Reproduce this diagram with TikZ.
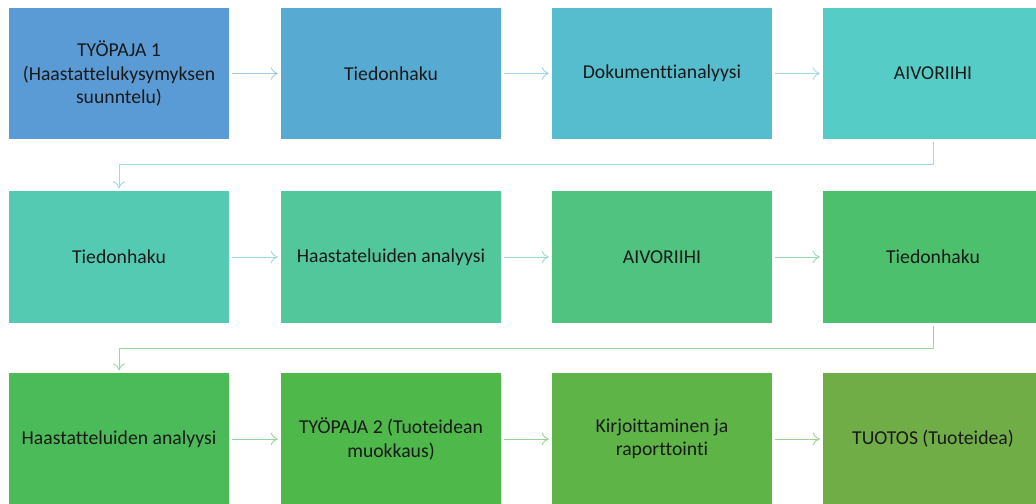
\documentclass[tikz,border=0pt]{standalone}
\usepackage{fontspec}
\setmainfont[Ligatures=NoCommon]{Carlito}
\usetikzlibrary{calc,positioning,arrows.meta}

\definecolor{cA}{HTML}{5B9BD5}
\definecolor{cB}{HTML}{57ABD2}
\definecolor{cC}{HTML}{55BDCD}
\definecolor{cD}{HTML}{55CCC6}
\definecolor{cE}{HTML}{54CAB2}
\definecolor{cF}{HTML}{52C79B}
\definecolor{cG}{HTML}{4FC37F}
\definecolor{cH}{HTML}{4CC06C}
\definecolor{cI}{HTML}{4BBB5A}
\definecolor{cJ}{HTML}{4EB84B}
\definecolor{cK}{HTML}{5EB447}
\definecolor{cL}{HTML}{70AD47}

\begin{document}
\begin{tikzpicture}[x=0.025cm,y=-0.025cm]
\tikzset{stepbox/.style={rectangle,minimum width=5.5cm,minimum height=3.275cm,
    inner sep=0pt,align=center,text=black!90,font=\fontsize{14}{16.5}\selectfont}};
\tikzset{link/.style={draw=#1,line width=0.6pt,-{To[length=5pt,width=9pt]},shorten >=2pt,shorten <=2pt}};

\pgfmathsetmacro{\colA}{119};
\pgfmathsetmacro{\colB}{391};
\pgfmathsetmacro{\colC}{662};
\pgfmathsetmacro{\colD}{933};
\pgfmathsetmacro{\rowA}{73.5};
\pgfmathsetmacro{\rowB}{257};
\pgfmathsetmacro{\rowC}{439};

\useasboundingbox (0,0) rectangle (1036,504);
\clip (0,0) rectangle (1036,504);
\fill[white] (0,0) rectangle (1036,504);

% first row
\node[stepbox,fill=cA] (b1) at (\colA,\rowA) {TYÖPAJA 1\\(Haastattelukysymyksen\\suunntelu)};
\node[stepbox,fill=cB] (b2) at (\colB,\rowA) {Tiedonhaku};
\node[stepbox,fill=cC] (b3) at (\colC,\rowA) {Dokumenttianalyysi};
\node[stepbox,fill=cD] (b4) at (\colD,\rowA) {AIVORIIHI};

% second row
\node[stepbox,fill=cE] (b5) at (\colA,\rowB) {Tiedonhaku};
\node[stepbox,fill=cF] (b6) at (\colB,\rowB) {Haastateluiden analyysi};
\node[stepbox,fill=cG] (b7) at (\colC,\rowB) {AIVORIIHI};
\node[stepbox,fill=cH] (b8) at (\colD,\rowB) {Tiedonhaku};

% third row
\node[stepbox,fill=cI] (b9) at (\colA,\rowC) {Haastatteluiden analyysi};
\node[stepbox,fill=cJ] (b10) at (\colB,\rowC) {TYÖPAJA 2 (Tuoteidean\\muokkaus)};
\node[stepbox,fill=cK] (b11) at (\colC,\rowC) {Kirjoittaminen ja\\raporttointi};
\node[stepbox,fill=cL] (b12) at (\colD,\rowC) {TUOTOS (Tuoteidea)};

\draw[link=cA!55!white] (b1) -- (b2);
\draw[link=cB!55!white] (b2) -- (b3);
\draw[link=cC!55!white] (b3) -- (b4);
\draw[link=cD!60!white] (b4.south) -- ++(0,25) -| (b5.north);
\draw[link=cE!60!white] (b5) -- (b6);
\draw[link=cF!60!white] (b6) -- (b7);
\draw[link=cG!60!white] (b7) -- (b8);
\draw[link=cH!60!white] (b8.south) -- ++(0,26) -| (b9.north);
\draw[link=cI!60!white] (b9) -- (b10);
\draw[link=cJ!60!white] (b10) -- (b11);
\draw[link=cK!60!white] (b11) -- (b12);
\end{tikzpicture}
\end{document}
